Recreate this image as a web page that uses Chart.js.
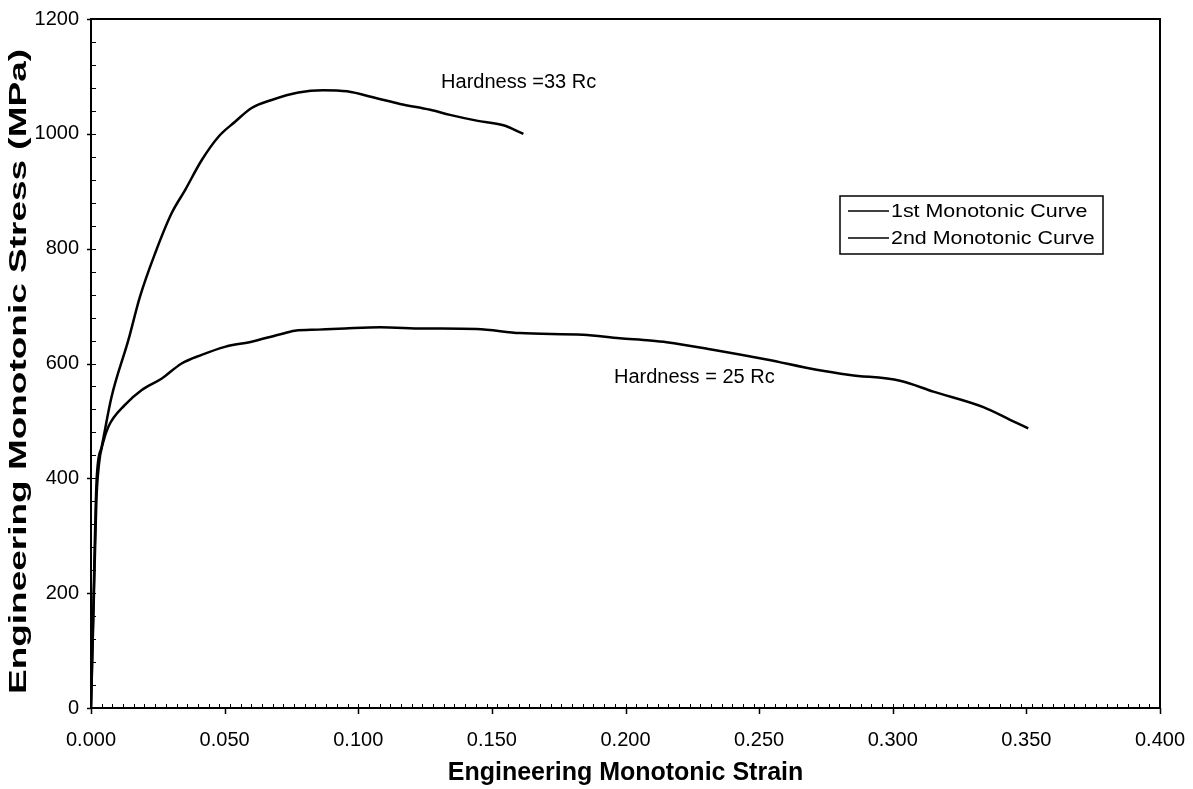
<!DOCTYPE html>
<html>
<head>
<meta charset="utf-8">
<script src="https://cdn.jsdelivr.net/npm/chart.js@4"></script>
<style>
  html, body { margin: 0; padding: 0; background: #fff; }
  #wrap { width: 1193px; height: 789px; position: relative; }
</style>
</head>
<body>
<div id="wrap"><canvas id="c" width="1193" height="789"></canvas></div>
<script>
// ---- data ----
const seriesLabels = ['1st Monotonic Curve', '2nd Monotonic Curve'];

const strain1 = [0, 0.0010, 0.0021, 0.0040, 0.0077, 0.0140, 0.0183, 0.0240, 0.0302, 0.0352, 0.0414, 0.0477, 0.0539, 0.0601, 0.0676, 0.0776, 0.0868, 0.0958, 0.1069, 0.1156, 0.1269, 0.1343, 0.1443, 0.1543, 0.1618];
const stress1 = [0, 200, 397, 455, 542, 641, 716, 792, 862, 902, 954, 995, 1021, 1045, 1059, 1072, 1076, 1074, 1062, 1052, 1042, 1033, 1023, 1015, 1000];

const strain2 = [0, 0.0010, 0.0020, 0.0030, 0.0045, 0.0065, 0.0127, 0.0190, 0.0265, 0.0339, 0.0414, 0.0501, 0.0601, 0.0701, 0.0763, 0.0851, 0.0950, 0.1081, 0.1242, 0.1443, 0.1605, 0.1841, 0.1979, 0.2092, 0.2154, 0.2316, 0.2528, 0.2715, 0.2840, 0.3027, 0.3152, 0.3339, 0.3439, 0.3507];
const stress2 = [0, 180, 360, 425, 462, 490, 528, 554, 574, 600, 615, 629, 638, 650, 657, 659, 661, 663, 661, 660, 653, 650, 644, 640, 637, 625, 607, 589, 580, 570, 551, 524, 502, 487];

const annotations = [
  { text: 'Hardness =33 Rc', x: 0.131, y: 1090 },
  { text: 'Hardness = 25 Rc', x: 0.1957, y: 575 }
];

const xMin = 0, xMax = 0.4, xStep = 0.05, xMinor = 0.004;
const yMin = 0, yMax = 1200, yStep = 200, yMinor = 40;
const xTitle = 'Engineering Monotonic Strain';
const yTitle = 'Engineering Monotonic Stress (MPa)';
const FONT = '"Liberation Sans", Arial, sans-serif';

function toPoints(xs, ys) { return xs.map((x, i) => ({ x: x, y: ys[i] })); }

const frameAndDecor = {
  id: 'frameAndDecor',
  afterDraw(chart) {
    const ctx = chart.ctx;
    const a = chart.chartArea;
    const xs = chart.scales.x, ys = chart.scales.y;
    ctx.save();
    // frame
    ctx.strokeStyle = '#000';
    ctx.lineWidth = 2;
    ctx.strokeRect(a.left, a.top, a.right - a.left, a.bottom - a.top);
    // minor ticks
    ctx.lineWidth = 1;
    ctx.beginPath();
    for (let k = 0; k * xMinor <= xMax + 1e-9; k++) {
      const px = Math.round(xs.getPixelForValue(k * xMinor)) + 0.5;
      ctx.moveTo(px, a.bottom); ctx.lineTo(px, a.bottom - 4);
    }
    for (let k = 0; k * yMinor <= yMax + 1e-9; k++) {
      const py = Math.round(ys.getPixelForValue(k * yMinor)) + 0.5;
      ctx.moveTo(a.left, py); ctx.lineTo(a.left + 5, py);
    }
    ctx.stroke();
    // major ticks
    ctx.lineWidth = 1.5;
    ctx.beginPath();
    for (let k = 0; k * xStep <= xMax + 1e-9; k++) {
      const px = Math.round(xs.getPixelForValue(k * xStep)) + 0.5;
      ctx.moveTo(px, a.bottom); ctx.lineTo(px, a.bottom + 6);
    }
    for (let k = 0; k * yStep <= yMax + 1e-9; k++) {
      const py = Math.round(ys.getPixelForValue(k * yStep)) + 0.5;
      ctx.moveTo(a.left, py); ctx.lineTo(a.left - 4, py);
    }
    ctx.stroke();

    // y axis title (stretched along its length like the scanned original)
    ctx.fillStyle = '#000';
    ctx.font = 'bold 23px ' + FONT;
    ctx.textAlign = 'center';
    ctx.textBaseline = 'middle';
    const tw = ctx.measureText(yTitle).width;
    const targetLen = 645;
    ctx.save();
    ctx.translate(20, (a.top + a.bottom) / 2 + 8);
    ctx.rotate(-Math.PI / 2);
    ctx.scale(targetLen / tw, 1);
    ctx.fillText(yTitle, 0, 0);
    ctx.restore();

    // annotations
    ctx.font = '20px ' + FONT;
    ctx.textAlign = 'left';
    annotations.forEach(an => {
      ctx.fillText(an.text, xs.getPixelForValue(an.x), ys.getPixelForValue(an.y));
    });

    // legend box
    const bx = 840, by = 196, bw = 263, bh = 58;
    ctx.fillStyle = '#fff';
    ctx.fillRect(bx, by, bw, bh);
    ctx.strokeStyle = '#000';
    ctx.lineWidth = 1.5;
    ctx.strokeRect(bx, by, bw, bh);
    ctx.font = '18px ' + FONT;
    chart.data.datasets.forEach((ds, i) => {
      const ly = by + 15 + i * 27;
      ctx.strokeStyle = ds.borderColor;
      ctx.lineWidth = 1.5;
      ctx.beginPath();
      ctx.moveTo(bx + 8, ly); ctx.lineTo(bx + 49, ly);
      ctx.stroke();
      ctx.save();
      ctx.translate(bx + 51, ly);
      ctx.scale(1.19, 1);
      ctx.fillStyle = '#000';
      ctx.fillText(ds.label, 0, 1);
      ctx.restore();
    });
    ctx.restore();
  }
};

new Chart(document.getElementById('c'), {
  type: 'scatter',
  data: {
    datasets: [
      { label: seriesLabels[0], data: toPoints(strain1, stress1), showLine: true, borderColor: '#000', borderWidth: 2.5, pointRadius: 0, cubicInterpolationMode: 'monotone' },
      { label: seriesLabels[1], data: toPoints(strain2, stress2), showLine: true, borderColor: '#000', borderWidth: 2.5, pointRadius: 0, cubicInterpolationMode: 'monotone' }
    ]
  },
  options: {
    responsive: false,
    animation: false,
    layout: { padding: { left: 0, top: 19, right: 33, bottom: 0 } },
    plugins: { legend: { display: false }, tooltip: { enabled: false } },
    scales: {
      x: {
        type: 'linear', min: xMin, max: xMax,
        grid: { display: false, drawTicks: false },
        border: { display: false },
        ticks: { stepSize: xStep, padding: 20, color: '#000', font: { size: 20, family: FONT }, maxRotation: 0, callback: v => Number(v).toFixed(3) },
        title: { display: true, text: xTitle, color: '#000', font: { size: 25, weight: 'bold', family: FONT }, padding: { top: 0, bottom: 1 } },
        afterFit(s) { s.height = 81; s.paddingLeft = 0; s.paddingRight = 0; }
      },
      y: {
        type: 'linear', min: yMin, max: yMax,
        grid: { display: false, drawTicks: false },
        border: { display: false },
        ticks: { stepSize: yStep, padding: 12, color: '#000', font: { size: 20, family: FONT }, callback: v => String(v) },
        title: { display: false },
        afterFit(s) { s.width = 91; s.paddingTop = 0; s.paddingBottom = 0; }
      }
    }
  },
  plugins: [frameAndDecor]
});
</script>
</body>
</html>
